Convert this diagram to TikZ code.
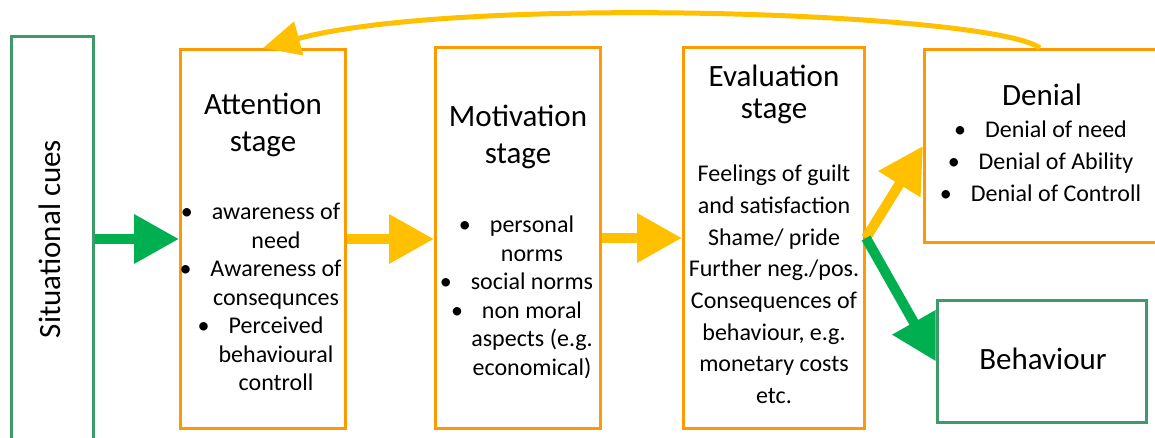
\documentclass[tikz,border=0pt]{standalone}
\usepackage{fontspec}
\setmainfont{Carlito}
\usetikzlibrary{arrows.meta}
\definecolor{stageorange}{RGB}{255,153,0}
\definecolor{arrowyellow}{RGB}{255,192,0}
\definecolor{arrowgreen}{RGB}{0,176,80}
\definecolor{cuegreen}{RGB}{60,155,105}
\newcommand{\blt}{\llap{\textbullet\hspace{19pt}}}

\begin{document}
\begin{tikzpicture}[x=1pt,y=-1pt,>={Triangle[length=45pt,width=47pt]},line join=miter,
	stage/.style={draw=stageorange,line width=3pt,fill=white},
	cue/.style={draw=cuegreen,line width=3pt,fill=white},
	head/.style={font=\fontsize{31}{37}\selectfont,align=center},
	txt/.style={font=\fontsize{24}{28.5}\selectfont,align=center},
	yel/.style={->,arrowyellow,line width=10pt},
	grn/.style={->,arrowgreen,line width=10pt}]
	\path[use as bounding box,clip] (0,0) rectangle (1155,438);
	% boxes
	\node[cue,minimum width=82pt,minimum height=440pt] (cues) at (52.5,256.5) {};
	\node[stage,minimum width=165pt,minimum height=379pt] (attn) at (263,239) {};
	\node[stage,minimum width=165pt,minimum height=381pt] (motiv) at (518,238) {};
	\node[stage,minimum width=181pt,minimum height=381pt] (eval) at (774,238) {};
	\node[stage,minimum width=260pt,minimum height=193pt] (denial) at (1054.5,146) {};
	\node[cue,minimum width=209pt,minimum height=122pt] (behav) at (1042,361.5) {};
	% texts
	\node[head,rotate=90] (cuestxt) at (49.5,239) {Situational cues};
	\node[head] (attnhead) at (263,125) {Attention\\stage};
	\node[txt] (attntxt) at (276,297) {\blt awareness of\\need\\\blt Awareness of\\consequnces\\\blt Perceived\\behavioural\\controll};
	\node[head] (motivhead) at (518,136.5) {Motivation\\stage};
	\node[txt] (motivtxt) at (532,297.5) {\blt personal\\norms\\\blt social norms\\\blt non moral\\aspects (e.g.\\economical)};
	\node[head,font=\fontsize{31}{32}\selectfont] (evalhead) at (774,94) {Evaluation\\stage};
	\node[txt,font=\fontsize{24}{31.7}\selectfont] (evaltxt) at (774,284.5) {Feelings of guilt\\and satisfaction\\Shame/ pride\\Further neg./pos.\\Consequences of\\behaviour, e.g.\\monetary costs\\etc.};
	\node[head] (denialhead) at (1042,95) {Denial};
	\node[txt,font=\fontsize{24}{32}\selectfont] (denialtxt) at (1056,161.5) {\blt Denial of need\\\blt Denial of Ability\\\blt Denial of Controll};
	\node[head] (behavtxt) at (1043,358.5) {Behaviour};
	% arrows
	\draw[grn] (cues.east |- attn.west) -- (attn.west);
	\foreach \a/\b in {attn/motiv,motiv/eval}
	\draw[yel] (\a.east) -- (\a.east -| \b.west);
	\coordinate (fork) at (eval.east);
	\draw[yel] (fork) -- (denial.west);
	\draw[grn] (fork) -- (behav.west);
	\coordinate (loop) at (1040,48);
	\draw[->,arrowyellow,line width=5pt,>={Triangle[length=37pt,width=34pt]}] (loop) .. controls (990,12) and (460,-5) .. (attn.north);
\end{tikzpicture}
\end{document}
